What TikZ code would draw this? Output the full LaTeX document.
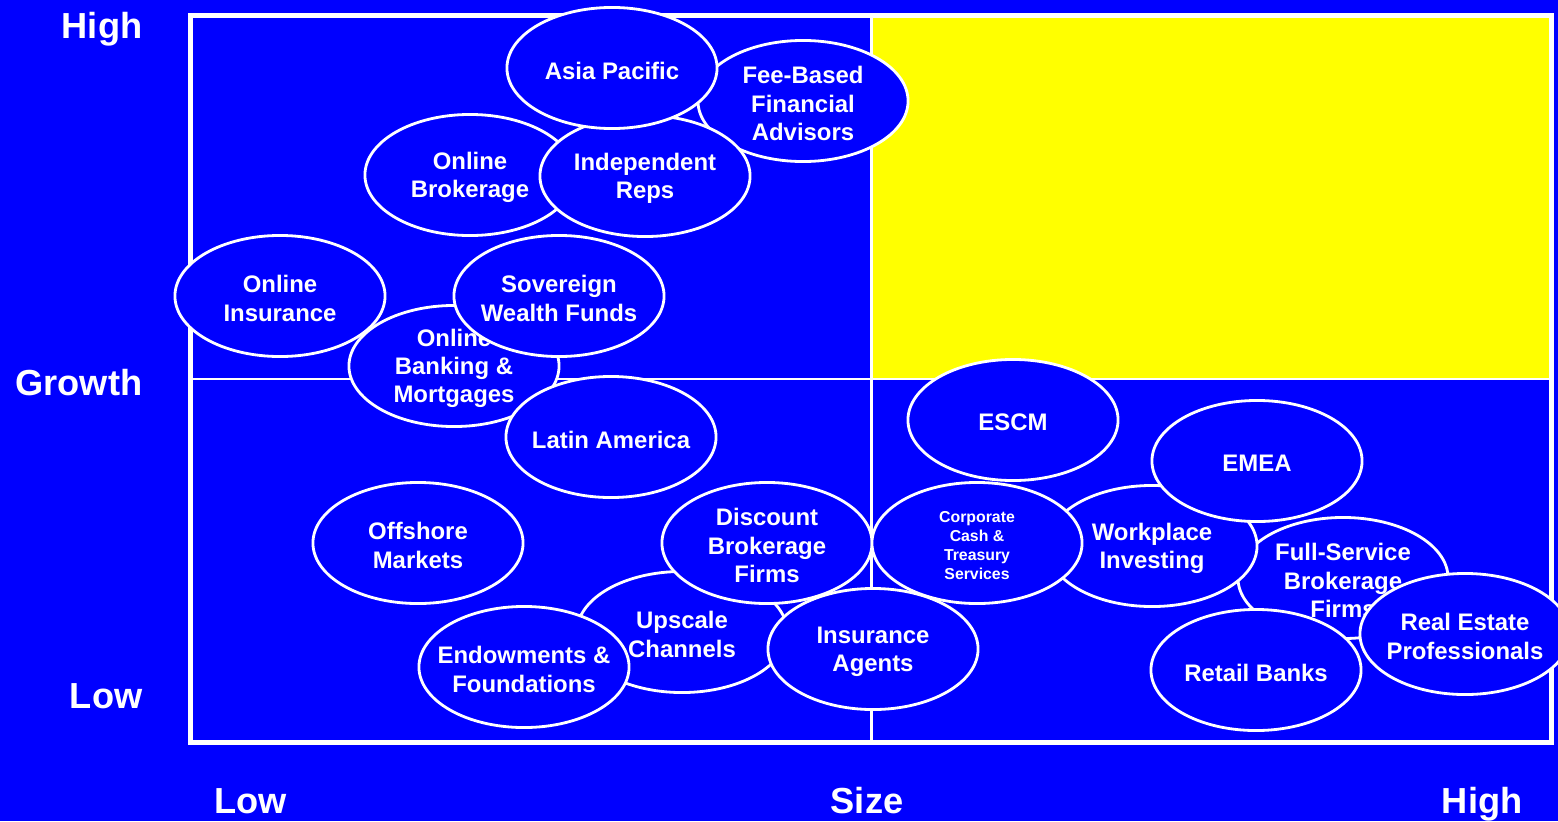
\documentclass[tikz,border=0pt]{standalone}
\usepackage{fontspec}
\setmainfont{Liberation Sans}
\usetikzlibrary{shapes.geometric}

\definecolor{chartblue}{RGB}{0,0,255}
\definecolor{hotyellow}{RGB}{255,255,0}

\tikzset{
  bubble/.style={ellipse, draw=white, fill=chartblue, line width=0.8pt,
    minimum width=2.1cm, minimum height=1.21cm, inner sep=0pt},
  bubbletext/.style={text=white, align=center, inner sep=0pt, yshift=-0.7pt,
    font=\bfseries\fontsize{6.8}{8}\selectfont},
  axislabel/.style={text=white, inner sep=0pt,
    font=\bfseries\fontsize{10.3}{12}\selectfont},
}

\begin{document}
\begin{tikzpicture}[x=0.01cm, y=-0.01cm]
\clip (0,0) rectangle (1558,821);
\fill[chartblue] (0,0) rectangle (1558,821);

% frame corners and the two dividing lines
\coordinate (nw) at (190.5,15.5);
\coordinate (se) at (1551.5,742.5);
\coordinate (mid) at (871.5,379);
\fill[hotyellow] (mid) rectangle (nw -| se);
\draw[white, line width=0.75pt]
     (nw -| mid) -- (se -| mid)
     (nw |- mid) -- (se |- mid);
\draw[white, line width=1.6pt] (nw) rectangle (se);

% axis labels
\node[axislabel, anchor=base east] (g-high) at (143,38) {High};
\node[axislabel, anchor=base east] (g-mid) at (143,395) {Growth};
\node[axislabel, anchor=base east] (g-low) at (143,708) {Low};
\node[axislabel, anchor=base west] (s-low) at (214,813) {Low};
\node[axislabel, anchor=base] (s-mid) at (867,813) {Size};
\node[axislabel, anchor=base east] (s-high) at (1523,813) {High};

% upper left quadrant
\node[bubble] (feebased) at (803,101) {};
\node[bubbletext] (feebased-t) at (feebased) {Fee-Based\\Financial\\Advisors};
\node[bubble] (onlinebrk) at (470,175) {};
\node[bubbletext] (onlinebrk-t) at (onlinebrk) {Online\\Brokerage};
\node[bubble] (indreps) at (645,176) {};
\node[bubbletext] (indreps-t) at (indreps) {Independent\\Reps};
\node[bubble] (asiapac) at (612,68) {};
\node[bubbletext] (asiapac-t) at (asiapac) {Asia Pacific};
\node[bubble] (onlinebank) at (454,366) {};
\node[bubbletext] (onlinebank-t) at (onlinebank) {Online\\Banking \&\\Mortgages};
\node[bubble] (onlineins) at (280,296) {};
\node[bubbletext] (onlineins-t) at (onlineins) {Online\\Insurance};
\node[bubble] (sovereign) at (559,296) {};
\node[bubbletext] (sovereign-t) at (sovereign) {Sovereign\\Wealth Funds};

% lower left quadrant
\node[bubble] (latam) at (611,437) {};
\node[bubbletext] (latam-t) at (latam) {Latin America};
\node[bubble] (offshore) at (418,543) {};
\node[bubbletext] (offshore-t) at (offshore) {Offshore\\Markets};
\node[bubble] (upscale) at (682,632) {};
\node[bubbletext] (upscale-t) at (upscale) {Upscale\\Channels};
\node[bubble] (discount) at (767,543) {};
\node[bubbletext] (discount-t) at (discount) {Discount\\Brokerage\\Firms};
\node[bubble] (endow) at (524,667) {};
\node[bubbletext] (endow-t) at (endow) {Endowments \&\\Foundations};

% lower right quadrant
\node[bubble] (escm) at (1013,420) {};
\node[bubbletext] (escm-t) at (escm) {ESCM};
\node[bubble] (fullsvc) at (1343,578) {};
\node[bubbletext] (fullsvc-t) at (fullsvc) {Full-Service\\Brokerage\\Firms};
\node[bubble] (workplace) at (1152,546) {};
\node[bubbletext] (workplace-t) at (workplace) {Workplace\\Investing};
\node[bubble] (corpcash) at (977,543) {};
\node[bubbletext, font=\bfseries\fontsize{4.5}{5.4}\selectfont]
  (corpcash-t) at (corpcash) {Corporate\\Cash \&\\Treasury\\Services};
\node[bubble] (insagents) at (873,649) {};
\node[bubbletext] (insagents-t) at (insagents) {Insurance\\Agents};
\node[bubble] (emea) at (1257,461) {};
\node[bubbletext] (emea-t) at (emea) {EMEA};
\node[bubble] (retail) at (1256,670) {};
\node[bubbletext] (retail-t) at (retail) {Retail Banks};
\node[bubble] (realestate) at (1465,634) {};
\node[bubbletext] (realestate-t) at (realestate) {Real Estate\\Professionals};
\end{tikzpicture}
\end{document}
